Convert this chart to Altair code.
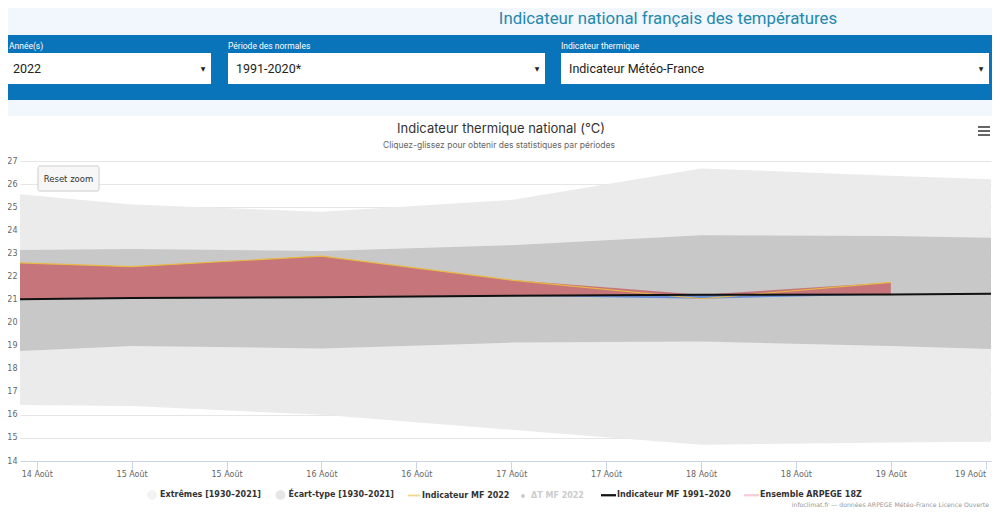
import altair as alt
import pandas as pd

# ---------------- data ----------------
DATES = ["2022-08-14T00:00:00", "2022-08-15T00:00:00", "2022-08-16T00:00:00",
         "2022-08-17T00:00:00", "2022-08-18T00:00:00", "2022-08-19T00:00:00",
         "2022-08-20T00:00:00"]
EXT_HIGH = [25.86, 25.12, 24.80, 25.31, 26.68, 26.36, 26.08]
EXT_LOW = [16.46, 16.38, 16.00, 15.35, 14.70, 14.80, 14.87]
STD_HIGH = [23.11, 23.19, 23.10, 23.35, 23.78, 23.75, 23.60]
STD_LOW = [18.61, 18.98, 18.88, 19.13, 19.18, 18.98, 18.74]
NORMAL = [20.98, 21.06, 21.10, 21.16, 21.20, 21.22, 21.27]
MF_2022 = [22.70, 22.42, 22.88, 21.84, 21.03, 21.74, None]

Y_TICKS = list(range(14, 28))
# x ticks every 12 h, 14 Aug 12:00 -> 19 Aug 12:00
X_TICK_DAYS = [14, 15, 15, 16, 16, 17, 17, 18, 18, 19, 19]
X_TICK_HOURS = [12, 0, 12, 0, 12, 0, 12, 0, 12, 0, 12]

LEGEND_A = ["Extrêmes [1930–2021]", "Écart-type [1930–2021]", "Indicateur MF 2022"]
LEGEND_A_COLORS = ["#f3f3f3", "#e6e6e6", "#f0d78a"]
LEGEND_B = ["ΔT MF 2022"]          # hidden series (greyed in the legend)
LEGEND_C = ["Indicateur MF 1991–2020", "Ensemble ARPEGE 18Z"]
LEGEND_C_COLORS = ["#111111", "#f7ccd6"]

PAGE_TITLE = "Indicateur national français des températures"
FILTER_LABELS = ["Année(s)", "Période des normales", "Indicateur thermique"]
FILTER_VALUES = ["2022", "1991-2020*", "Indicateur Météo-France"]
CHART_TITLE = "Indicateur thermique national (°C)"
CHART_SUBTITLE = "Cliquez-glissez pour obtenir des statistiques par périodes"
CREDIT = "infoclimat.fr — données ARPEGE Météo-France Licence Ouverte"

df = pd.DataFrame({
    "date": DATES, "ext_high": EXT_HIGH, "ext_low": EXT_LOW,
    "std_high": STD_HIGH, "std_low": STD_LOW, "normal": NORMAL, "mf": MF_2022,
})

# ---------------- scales / axes ----------------
x_scale = alt.Scale(domain=[alt.DateTime(year=2022, month=8, date=14, hours=9, minutes=53),
                            alt.DateTime(year=2022, month=8, date=19, hours=12, minutes=40)])
x_ticks = [alt.DateTime(year=2022, month=8, date=d, hours=h) for d, h in zip(X_TICK_DAYS, X_TICK_HOURS)]
x_axis = alt.Axis(values=x_ticks, format="%d Août",
                  grid=False, domainColor="#ccd6eb", tickColor="#ccd6eb", tickSize=8,
                  labelFont="DejaVu Sans", labelFontSize=8, labelColor="#666666",
                  labelPadding=1, labelFlush=13, labelOverlap=False, title=None)
y_scale = alt.Scale(domain=[14, 27], nice=False, zero=False)
y_axis = alt.Axis(values=Y_TICKS, grid=True, gridColor="#e6e6e6", domain=False, ticks=False,
                  labelFont="DejaVu Sans", labelFontSize=8, labelColor="#666666",
                  labelPadding=3, title=None)

X = alt.X("date:T", scale=x_scale, axis=x_axis, title=None)


def Y(field):
    return alt.Y(field, scale=y_scale, axis=y_axis, title=None)


base = alt.Chart(df)

ext_band = base.mark_area(clip=True, color="#ebebeb").encode(x=X, y=Y("ext_low:Q"), y2="ext_high:Q")
std_band = base.mark_area(clip=True, color="#c8c8c8").encode(x=X, y=Y("std_low:Q"), y2="std_high:Q")
mf_base = base.transform_filter("isValid(datum.mf)")
delta_up = mf_base.transform_calculate(up="max(datum.mf, datum.normal)").mark_area(
    clip=True, color="#c6767a").encode(x=X, y=Y("normal:Q"), y2="up:Q")
delta_dn = mf_base.transform_calculate(dn="min(datum.mf, datum.normal)").mark_area(
    clip=True, color="#6a8fd6").encode(x=X, y=Y("normal:Q"), y2="dn:Q")
mf_line = mf_base.mark_line(clip=True, color="#e8b944", strokeWidth=1.2).encode(x=X, y=Y("mf:Q"))
normal_line = base.mark_line(clip=True, color="#111111", strokeWidth=2).encode(x=X, y=Y("normal:Q"))

# ---------------- legends (library legends, fed by off-plot layers) ----------------
circle = ("M0.83,0L0.72,0.415L0.415,0.72L0,0.83L-0.415,0.72L-0.72,0.415L-0.83,0"
          "L-0.72,-0.415L-0.415,-0.72L0,-0.83L0.415,-0.72L0.72,-0.415Z")
bar = "M-1,-0.15L1,-0.15L1,0.15L-1,0.15Z"
LEGEND_A_SHAPES = [circle, circle, bar]

common = dict(title=None, orient="none", direction="horizontal", padding=0, symbolOpacity=1,
              labelFont="DejaVu Sans", labelFontSize=8, labelFontWeight="bold")

leg_a = alt.Legend(legendX=126, legendY=328, columns=3, columnPadding=13.5, labelOffset=2,
                   symbolSize=144, symbolStrokeWidth=0, labelColor="#333333", **common)
leg_b = alt.Legend(legendX=499, legendY=331, columns=1, symbolType="circle", symbolSize=16,
                   symbolFillColor="#cccccc", symbolStrokeWidth=0, labelOffset=4,
                   labelColor="#cccccc", **common)
leg_c = alt.Legend(legendX=581, legendY=326.5, columns=2, columnPadding=13, labelOffset=1,
                   symbolSize=225, symbolType=bar, symbolStrokeWidth=0,
                   labelColor="#333333", **common)

layer_a = alt.Chart(pd.DataFrame({"grp_a": LEGEND_A})).mark_point(filled=True, opacity=1, clip=True).encode(
    x=alt.value(-600), y=alt.value(-600),
    color=alt.Color("grp_a:N", scale=alt.Scale(domain=LEGEND_A, range=LEGEND_A_COLORS), legend=leg_a),
    shape=alt.Shape("grp_a:N", scale=alt.Scale(domain=LEGEND_A, range=LEGEND_A_SHAPES), legend=leg_a),
)
layer_b = alt.Chart(pd.DataFrame({"grp_b": LEGEND_B})).mark_point(
    filled=True, opacity=1, clip=True, color="#cccccc").encode(
    x=alt.value(-600), y=alt.value(-600),
    stroke=alt.Stroke("grp_b:N", scale=alt.Scale(domain=LEGEND_B, range=["#cccccc"]), legend=leg_b),
)
layer_c = alt.Chart(pd.DataFrame({"grp_c": LEGEND_C})).mark_point(filled=True, opacity=1, clip=True).encode(
    x=alt.value(-600), y=alt.value(-600),
    fill=alt.Fill("grp_c:N", scale=alt.Scale(domain=LEGEND_C, range=LEGEND_C_COLORS), legend=leg_c),
)

# ---------------- page decoration ----------------
one = pd.DataFrame({"k": [0]})


def rect(x1, x2, y1, y2, fill, stroke=None, radius=0):
    kw = dict(fill=fill)
    if radius:
        kw.update(cornerRadius=radius)
    if stroke:
        kw.update(stroke=stroke, strokeWidth=1)
    return alt.Chart(one).mark_rect(**kw).encode(
        x=alt.value(x1), x2=alt.value(x2), y=alt.value(y1), y2=alt.value(y2))


def txt(s, x, y, size, color, font="Roboto", weight="normal", align="left"):
    return alt.Chart(one).mark_text(text=s, align=align, baseline="middle", fontSize=size,
                                    color=color, font=font, fontWeight=weight).encode(
        x=alt.value(x), y=alt.value(y))


def hline(x1, x2, y, color, w):
    return alt.Chart(one).mark_rule(color=color, strokeWidth=w).encode(
        x=alt.value(x1), x2=alt.value(x2), y=alt.value(y))


deco = [
    rect(-12, 972, -161, -45, "#f2f6fd"),
    rect(-12, 972, -126, -61, "#0a74bb"),
    txt(PAGE_TITLE, 648, -142, 16.8, "#2389ad", align="center"),
]
box_x = [(-15, 191), (208, 525), (541, 969)]
for (x1, x2), lab, val in zip(box_x, FILTER_LABELS, FILTER_VALUES):
    deco += [
        txt(lab, max(x1, -11), -115, 8.5, "#ffffff"),
        rect(x1, x2, -108, -77, "#ffffff"),
        txt(val, x1 + 8, -92, 12.5, "#222222"),
        txt("▼", x2 - 8, -92, 6, "#222222", font="DejaVu Sans", align="center"),
    ]
deco += [
    txt(CHART_TITLE, 481, -32, 13, "#333333", font="Inter", align="center"),
    txt(CHART_SUBTITLE, 479, -16, 8.5, "#666666", font="Inter", align="center"),
    hline(958, 970, -34, "#666666", 2),
    hline(958, 970, -30, "#666666", 2),
    hline(958, 970, -26, "#666666", 2),
]

top = [
    rect(18, 79, 5, 30, "#f7f7f7", stroke="#cccccc", radius=2),
    txt("Reset zoom", 48.5, 18, 8.5, "#333333", font="DejaVu Sans", align="center"),
    txt(CREDIT, 969, 344, 6.2, "#999999", font="DejaVu Sans", align="right"),
]

# total width = 12 + 971 + 1 = 984 (fits the page body without being shrunk)
chart = alt.layer(
    *deco, ext_band, std_band, delta_dn, delta_up, mf_line, normal_line,
    layer_a, layer_b, layer_c, *top
).properties(
    width=971, height=300, autosize="none",
    padding={"left": 12, "top": 153, "right": 1, "bottom": 47},
    background="#ffffff",
).configure_view(strokeWidth=0)

chart.save("out.html", embed_options={"renderer": "svg", "actions": False})
